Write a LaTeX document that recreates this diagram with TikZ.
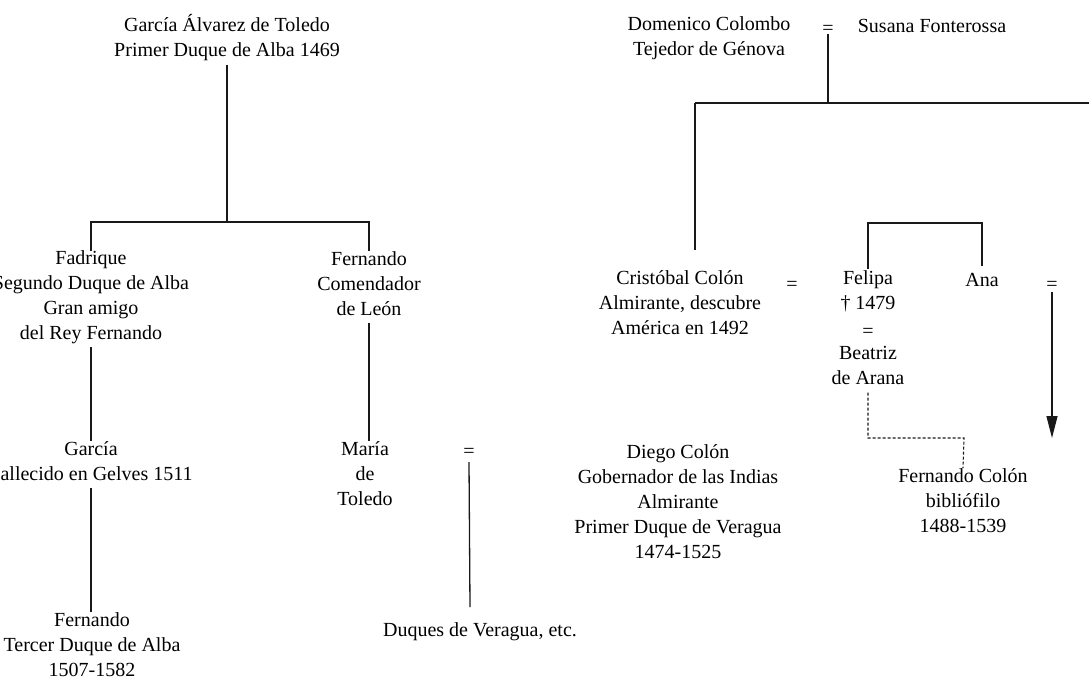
\documentclass[tikz,border=0pt]{standalone}
\usepackage{fontspec}
\setmainfont{Liberation Serif}
\usetikzlibrary{arrows.meta}
\begin{document}
\begin{tikzpicture}[x=1pt,y=-1pt,
  person/.style={font=\fontsize{20}{25}\selectfont, align=center, inner sep=0pt,
    execute at begin node=\strut, execute at end node=\strut, text=black},
  link/.style={draw=black!90, line width=1.3pt},
  dashlink/.style={draw=black!90, line width=1.1pt, dash pattern=on 3pt off 2pt}]
\useasboundingbox (0,0) rectangle (1089,680);
% left tree
\node[person] (ga) at (227,39.5) {García Álvarez de Toledo\\Primer Duque de Alba 1469};
\node[person] (fad) at (91,299) {Fadrique\\Segundo Duque de Alba\\Gran amigo\\del Rey Fernando};
\node[person] (fer) at (369,287) {Fernando\\Comendador\\de León};
\node[person] (gar) at (91,464.5) {García\\Fallecido en Gelves 1511};
\node[person] (fter) at (92,648) {Fernando\\Tercer Duque de Alba\\1507-1582};
\node[person] (mar) at (365,477) {María\\de\\Toledo};
\node[person] (eq1) at (469,452) {=};
\node[person] (dv) at (480,631) {Duques de Veragua, etc.};
\coordinate (j1) at (227,222);
\draw[link] (ga.south) -- (j1);
\draw[link] (fad.north) -- (fad.north |- j1) -- (fer.north |- j1) -- (fer.north);
\draw[link] (fad.south) -- (gar.north);
\draw[link] (gar.south) -- (gar.south |- fter.north);
\draw[link] (fer.south) -- (fer.south |- mar.north);
\coordinate (dvtop) at (470,607);
\draw[link] ([yshift=-10pt]eq1.center) -- (dvtop);
% right tree
\node[person] (dc) at (709,39.5) {Domenico Colombo\\Tejedor de Génova};
\node[person] (eq2) at (828,29) {=};
\node[person] (sf) at (932,27) {Susana Fonterossa};
\node[person] (cc) at (680,306.5) {Cristóbal Colón\\Almirante, descubre\\América en 1492};
\node[person] (eq3) at (792,285) {=};
\node[person] (fel) at (868,294) {Felipa\\† 1479};
\node[person] (eq4) at (868,332) {=};
\node[person] (bea) at (868,369.5) {Beatriz\\de Arana};
\node[person] (ana) at (982,281) {Ana};
\node[person] (eq5) at (1052,285) {=};
\node[person] (dco) at (678,505) {Diego Colón\\Gobernador de las Indias\\Almirante\\Primer Duque de Veragua\\1474-1525};
\node[person] (fcol) at (963,504) {Fernando Colón\\bibliófilo\\1488-1539};
\coordinate (j2) at (828,103);
\coordinate (ccj) at (695,103);
\coordinate (bend) at (1095,103);
\coordinate (cctop) at (695,250);
\draw[link] ([yshift=-5pt]eq2.center) -- (j2);
\draw[link] (ccj) -- (bend);
\draw[link] (ccj) -- (cctop);
\coordinate (k1) at (868,223);
\coordinate (k2) at (982,223);
\draw[link] ([yshift=2pt]fel.north) -- (k1) -- (k2) -- ([yshift=2pt]ana.north);
\coordinate (arr) at (1052,438);
\draw[link, -{Triangle[length=22pt,width=11pt]}] ([yshift=-7pt]eq5.center) -- (arr);
\coordinate (d1) at (868,438);
\coordinate (d2) at (964,438);
\draw[dashlink] (bea.south) -- (d1) -- (d2) -- (fcol.north);
\end{tikzpicture}
\end{document}
